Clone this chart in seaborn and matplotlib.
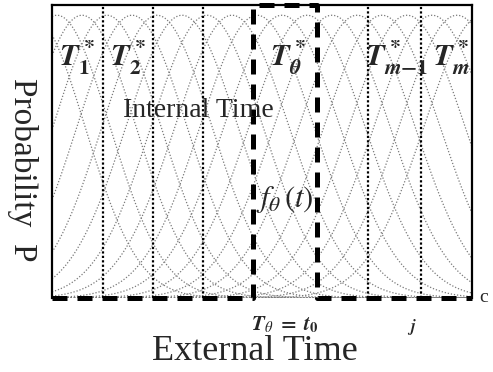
import numpy as np
import pandas as pd
import matplotlib
matplotlib.use('Agg')
import matplotlib.pyplot as plt
import seaborn as sns

# Internal-time tuning curves (centres and widths along external time)
centers = [-2.0, 0.5, 3.0, 5.5, 8.0, 10.5, 13.0, 15.5, 18.0, 20.5, 23.0,
           25.5, 28.0, 30.5, 33.0, 35.5, 38.0, 40.5, 43.0]
widths = [5.3, 5.3, 5.4, 5.4, 5.5, 5.5, 5.6, 5.6, 5.7, 5.7, 5.8,
          5.8, 5.8, 5.8, 5.8, 5.8, 5.8, 5.8, 5.8]
peak = 0.965

# dotted markers of the internal time states T*
state_lines = [5.1, 10.1, 15.1, 31.6, 36.9]
state_labels = [r'$\mathbfit{T}_{\mathbf{1}}^{\ \mathbf{*}}$', r'$\mathbfit{T}_{\mathbf{2}}^{\ \mathbf{*}}$',
                r'$\mathbfit{T}_{\mathbfit{\theta}}^{\ \mathbf{*}}$',
                r'$\mathbfit{T}_{\mathbfit{m}\mathbf{-1}}^{\ \mathbf{*}}$', r'$\mathbfit{T}_{\mathbfit{m}}^{\ \mathbf{*}}$']
label_x = [2.5, 7.6, 23.6, 34.5, 39.9]

# boxcar f_theta(t)
box_x = [0.0, 20.1, 20.1, 26.5, 26.5, 42.0]
box_y = [0.0, 0.0, 1.0, 1.0, 0.0, 0.0]

sns.set_style('white')
plt.rcParams['font.family'] = ['Liberation Serif', 'DejaVu Serif']
plt.rcParams['mathtext.fontset'] = 'stix'

fig = plt.figure(figsize=(4.93, 3.72), dpi=100)
ax = fig.add_axes([52 / 493, 1 - 298 / 372, 420 / 493, 293 / 372])

t = np.linspace(0, 42, 600)
for c, w in zip(centers, widths):
    y = peak * np.exp(-0.5 * ((t - c) / w) ** 2)
    sns.lineplot(x=t, y=y, ax=ax, color='#7a7a7a', lw=0.9, linestyle=(0, (1, 1.5)))

for x in state_lines:
    ax.axvline(x, color='black', lw=1.6, linestyle=(0, (1, 1)))

box = pd.DataFrame({'t': box_x, 'f': box_y})
ax.plot(box['t'], box['f'], color='black', lw=3.6, linestyle=(0, (3, 2)), clip_on=False)

for x, lab in zip(label_x, state_labels):
    ax.text(x, 0.82, lab, fontsize=22, ha='center', va='center')

ax.text(7.1, 0.64, 'Internal Time', fontsize=20, ha='left', va='center')
ax.text(23.3, 0.335, r'$f_{\theta}\,(t)$', fontsize=22, ha='center', va='center')

ax.set_xlim(0, 42)
ax.set_ylim(0, 1)
ax.set_xticks([])
ax.set_yticks([])
ax.set_xlabel('')
ax.set_ylabel('')
for s in ['left', 'right', 'top']:
    ax.spines[s].set_color('black')
    ax.spines[s].set_linewidth(1.6)
ax.spines['bottom'].set_visible(False)

fig.text(0.578, 0.126, r'$\mathbfit{T}_{\theta}\ \mathbf{=}\ \mathbfit{t}_{\mathbf{0}}$', fontsize=15,
         ha='center', va='center')
fig.text(0.517, 0.054, 'External Time', fontsize=26, ha='center', va='center')
fig.text(0.045, 0.543, 'Probability  P', fontsize=24, ha='center', va='center', rotation=-90)
fig.text(0.972, 0.2, 'c', fontsize=14, ha='left', va='center')
fig.text(0.835, 0.12, r'$\mathbfit{j}$', fontsize=12, ha='center', va='center')

fig.savefig('out.png', dpi=100)
